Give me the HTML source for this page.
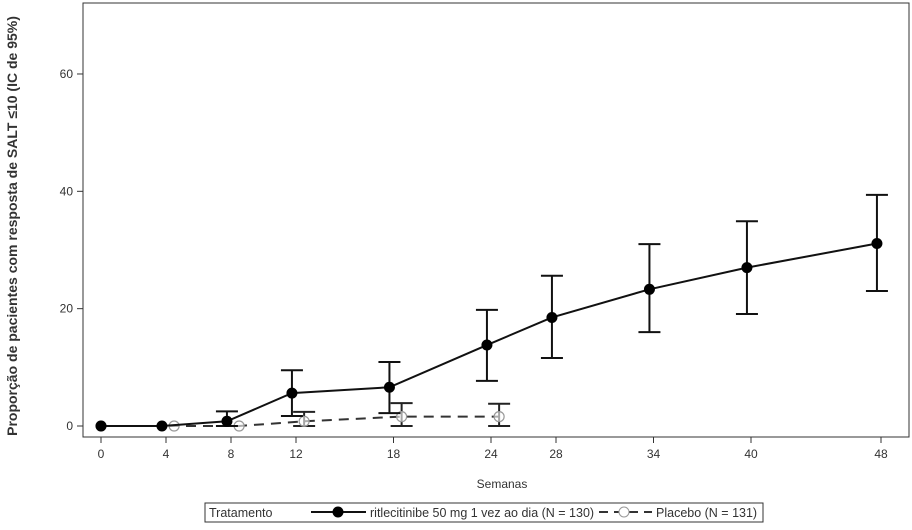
<!DOCTYPE html>
<html><head><meta charset="utf-8"><style>
body{margin:0;background:#fff;}
svg text{font-family:"Liberation Sans",Arial,sans-serif;fill:#333;}
</style></head><body>
<svg width="912" height="525" viewBox="0 0 912 525" xmlns="http://www.w3.org/2000/svg">
<g id="plot"></g>
</svg>
<script>
const weeks = [0,4,8,12,18,24,28,34,40,48];
const ritVals = [0,0,0.8,5.6,6.6,13.8,18.5,23.3,27.0,31.1];
const ritLow = [0,0,0,1.7,2.2,7.7,11.6,16.0,19.1,23.0];
const ritHigh = [0,0,2.5,9.5,10.9,19.8,25.6,31.0,34.9,39.4];
const plaWeeks = [0,4,8,12,18,24];
const plaVals = [0,0,0,0.8,1.6,1.6];
const plaLow = [0,0,0,0,0,0];
const plaHigh = [0,0,0,2.4,3.9,3.8];
const xTicks = [0,4,8,12,18,24,28,34,40,48];
const yTicks = [0,20,40,60];
const NS="http://www.w3.org/2000/svg";
const svg=document.querySelector('svg');
const g=document.getElementById('plot');
const X=w=>101+w*16.25;
const Y=v=>426-v*5.867;
function mk(tag,attrs,parent){const e=document.createElementNS(NS,tag);for(const k in attrs)e.setAttribute(k,attrs[k]);(parent||g).appendChild(e);return e;}
let fr=mk('rect',{x:83,y:3,width:826,height:434,fill:'none',stroke:'#333','stroke-width':1});


xTicks.forEach(t=>{
  mk('line',{x1:X(t),x2:X(t),y1:437,y2:443,stroke:'#333'});
  const tx=mk('text',{x:X(t),y:458,'font-size':12,'text-anchor':'middle'});tx.textContent=t;
  
  
});
yTicks.forEach(t=>{
  mk('line',{x1:77,x2:83,y1:Y(t),y2:Y(t),stroke:'#333'});
  const tx=mk('text',{x:73,y:Y(t)+4,'font-size':12,'text-anchor':'end'});tx.textContent=t;
  
  
});
let xt=mk('text',{x:502,y:488,'font-size':12,'text-anchor':'middle'});xt.textContent='Semanas';


let yt=mk('text',{x:0,y:0,'font-size':14,'font-weight':'bold','text-anchor':'middle',fill:'#111',transform:'translate(17,226) rotate(-90)'});yt.textContent='Proporção de pacientes com resposta de SALT ≤10 (IC de 95%)';


const pOff=w=>w===0?0:0.5;
let pp=plaWeeks.map((w,i)=>X(w+pOff(w))+','+Y(plaVals[i])).join(' ');
let pl=mk('polyline',{points:pp,fill:'none',stroke:'#333','stroke-width':2,'stroke-dasharray':'10,7'});


plaWeeks.forEach((w,i)=>{
  const x=X(w+pOff(w));
  if(plaHigh[i]>plaLow[i]){
    mk('line',{x1:x,x2:x,y1:Y(plaHigh[i]),y2:Y(plaLow[i]),stroke:'#222','stroke-width':2});
    mk('line',{x1:x-11,x2:x+11,y1:Y(plaHigh[i]),y2:Y(plaHigh[i]),stroke:'#222','stroke-width':2});
    mk('line',{x1:x-11,x2:x+11,y1:Y(plaLow[i]),y2:Y(plaLow[i]),stroke:'#222','stroke-width':2});
  }
  const c=mk('circle',{cx:x,cy:Y(plaVals[i]),r:5,fill:'#fff','fill-opacity':0.6,stroke:'#999','stroke-width':1.2});
  
  
});
const rOff=w=>w===0?0:-0.25;
let rp=weeks.map((w,i)=>X(w+rOff(w))+','+Y(ritVals[i])).join(' ');
let rl=mk('polyline',{points:rp,fill:'none',stroke:'#111','stroke-width':2});


weeks.forEach((w,i)=>{
  const x=X(w+rOff(w));
  if(ritHigh[i]>ritLow[i]){
    mk('line',{x1:x,x2:x,y1:Y(ritHigh[i]),y2:Y(ritLow[i]),stroke:'#111','stroke-width':2});
    mk('line',{x1:x-11,x2:x+11,y1:Y(ritHigh[i]),y2:Y(ritHigh[i]),stroke:'#111','stroke-width':2});
    mk('line',{x1:x-11,x2:x+11,y1:Y(ritLow[i]),y2:Y(ritLow[i]),stroke:'#111','stroke-width':2});
  }
  const c=mk('circle',{cx:x,cy:Y(ritVals[i]),r:5.5,fill:'#000'});
  
  
});
const lg=mk('g',{},svg);


mk('rect',{x:205,y:503,width:558,height:19,fill:'#fff',stroke:'#333'},lg);
let lt=mk('text',{x:209,y:517,'font-size':12.5},lg);lt.textContent='Tratamento';
mk('line',{x1:311,x2:366,y1:512,y2:512,stroke:'#111','stroke-width':2},lg);
mk('circle',{cx:338,cy:512,r:5.5,fill:'#000'},lg);
let l1=mk('text',{x:370,y:517,'font-size':12.5},lg);l1.textContent='ritlecitinibe 50 mg 1 vez ao dia (N = 130)';


mk('line',{x1:599,x2:652,y1:512,y2:512,stroke:'#333','stroke-width':2,'stroke-dasharray':'9,6'},lg);
mk('circle',{cx:624,cy:512,r:5,fill:'#fff',stroke:'#999'},lg);
let l2=mk('text',{x:656,y:517,'font-size':12.5},lg);l2.textContent='Placebo (N = 131)';


</script>
</body></html>
